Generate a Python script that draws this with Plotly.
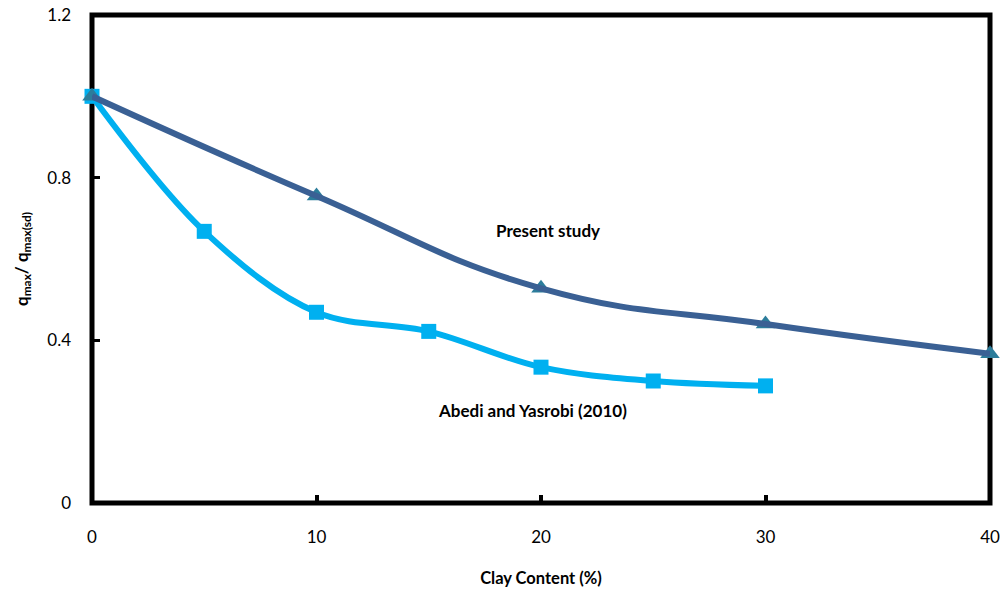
import plotly.graph_objects as go

clay_present = [0, 10, 20, 30, 40]
ratio_present = [1.0, 0.755, 0.528, 0.44, 0.367]

clay_abedi = [0, 5, 10, 15, 20, 25, 30]
ratio_abedi = [1.0, 0.668, 0.469, 0.422, 0.334, 0.300, 0.288]

x_ticks = [0, 10, 20, 30, 40]
y_ticks = [0, 0.4, 0.8, 1.2]
y_tick_text = ["0", "0.4", "0.8", "1.2"]

FONT = "Lato, 'Open Sans', sans-serif"
X_RANGE = [0, 40]
Y_RANGE = [0, 1.2]

fig = go.Figure()
# Abedi series: line then markers on top
fig.add_trace(go.Scatter(
    x=clay_abedi, y=ratio_abedi, mode="lines",
    line=dict(color="#00B0F0", width=6, shape="spline", smoothing=1.0),
    cliponaxis=False, name="Abedi and Yasrobi (2010)"))
fig.add_trace(go.Scatter(
    x=clay_abedi, y=ratio_abedi, mode="markers",
    marker=dict(symbol="square", size=15, color="#00B0F0"),
    cliponaxis=False, showlegend=False))
# Present study: markers under the line
fig.add_trace(go.Scatter(
    x=clay_present, y=ratio_present, mode="markers",
    marker=dict(symbol="triangle-up", size=17, color="#2C7D9B"),
    cliponaxis=False, showlegend=False))
fig.add_trace(go.Scatter(
    x=clay_present, y=ratio_present, mode="lines",
    line=dict(color="#3A6094", width=6, shape="spline", smoothing=1.3),
    cliponaxis=False, name="Present study"))

# plot frame centred on the plot-area edges (paper coords are not clipped)
fig.add_shape(type="rect", xref="paper", yref="paper",
              x0=0, x1=1, y0=0, y1=1,
              line=dict(color="black", width=5), layer="below")

fig.add_annotation(x=20.3, y=0.669, text="<b>Present study</b>", showarrow=False,
                   font=dict(family=FONT, size=17, color="black"))
fig.add_annotation(x=19.6, y=0.228, text="<b>Abedi and Yasrobi (2010)</b>", showarrow=False,
                   font=dict(family=FONT, size=17, color="black"))

fig.update_layout(
    width=1000, height=590,
    margin=dict(l=92, r=10, t=14.5, b=87),
    paper_bgcolor="white", plot_bgcolor="white",
    showlegend=False,
    font=dict(family=FONT, size=17, color="black"),
    xaxis=dict(range=X_RANGE, tickvals=x_ticks, showgrid=False, zeroline=False,
               showline=False,
               ticks="inside", ticklen=8, tickwidth=4, tickcolor="black",
               ticklabelstandoff=22, automargin=False, layer="below traces",
               title=dict(text="<b>Clay Content (%)</b>", font=dict(size=16.5), standoff=26)),
    yaxis=dict(range=Y_RANGE, tickvals=y_ticks, ticktext=y_tick_text, showgrid=False, zeroline=False,
               showline=False,
               ticks="inside", ticklen=8, tickwidth=3, tickcolor="black",
               ticklabelstandoff=20, automargin=False, layer="below traces",
               title=dict(text="<b>q<sub>max</sub>/ q<sub>max(sd)</sub></b>", font=dict(size=17), standoff=14)),
)

fig.write_html("out.html")
